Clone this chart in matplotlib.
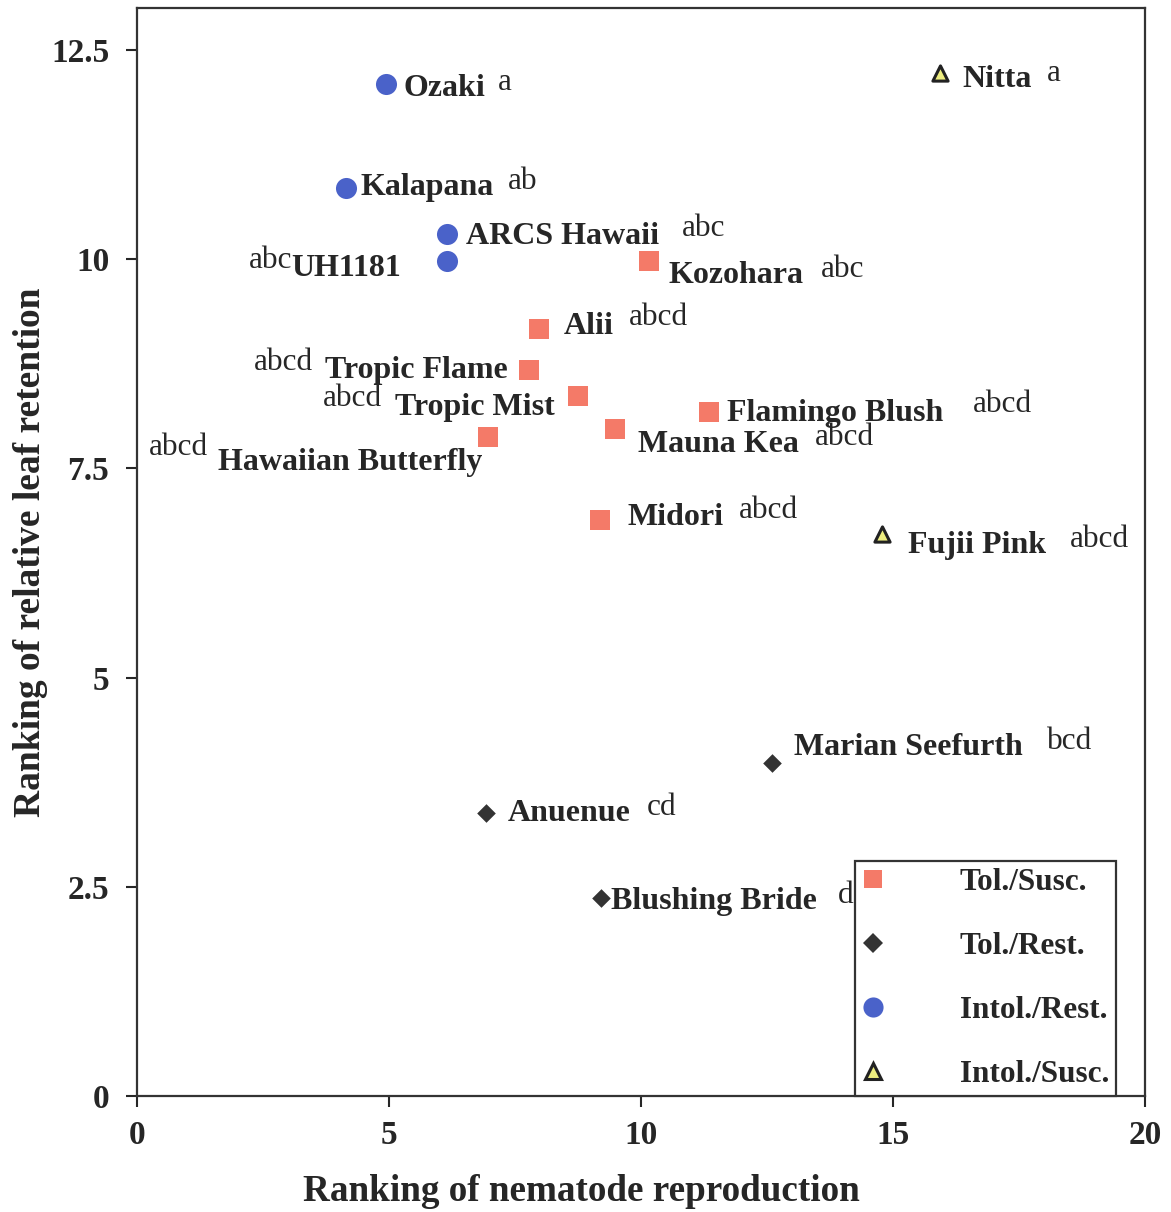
import matplotlib
matplotlib.use("Agg")
import matplotlib.pyplot as plt
from matplotlib.lines import Line2D

plt.rcParams['font.family'] = ['Liberation Serif', 'DejaVu Serif']

# Data
groups = ["Tol./Susc.", "Tol./Rest.", "Intol./Rest.", "Intol./Susc."]
cultivars = ["Ozaki", "Kalapana", "ARCS Hawaii", "UH1181", "Kozohara", "Alii",
             "Tropic Flame", "Tropic Mist", "Flamingo Blush", "Mauna Kea",
             "Hawaiian Butterfly", "Midori", "Nitta", "Fujii Pink",
             "Marian Seefurth", "Anuenue", "Blushing Bride"]
group_of = ["Intol./Rest.", "Intol./Rest.", "Intol./Rest.", "Intol./Rest.",
            "Tol./Susc.", "Tol./Susc.", "Tol./Susc.", "Tol./Susc.", "Tol./Susc.",
            "Tol./Susc.", "Tol./Susc.", "Tol./Susc.", "Intol./Susc.", "Intol./Susc.",
            "Tol./Rest.", "Tol./Rest.", "Tol./Rest."]
reproduction = [4.94, 4.15, 6.15, 6.15, 10.16, 7.98, 7.78, 8.75, 11.35, 9.48,
                6.96, 9.19, 15.93, 14.78, 12.6, 6.92, 9.21]
retention = [12.09, 10.85, 10.30, 9.98, 9.98, 9.16, 8.67, 8.36, 8.17, 7.97,
             7.87, 6.88, 12.22, 6.71, 3.98, 3.38, 2.37]
letters = ["a", "ab", "abc", "abc", "abc", "abcd", "abcd", "abcd", "abcd", "abcd",
           "abcd", "abcd", "a", "abcd", "bcd", "cd", "d"]
# label anchor positions (data coords)
name_xy = [(5.28, 12.04), (4.44, 10.85), (6.53, 10.27), (3.06, 9.89), (10.54, 9.80),
           (8.47, 9.19), (3.73, 8.67), (5.12, 8.23), (11.71, 8.16), (9.94, 7.79),
           (1.61, 7.57), (9.72, 6.91), (16.37, 12.15), (15.30, 6.58), (13.04, 4.16),
           (7.36, 3.37), (9.40, 2.32)]
letter_xy = [(7.16, 12.11), (7.36, 10.93), (10.81, 10.36), (2.22, 9.98), (13.57, 9.88),
             (9.76, 9.30), (2.32, 8.77), (3.69, 8.33), (16.59, 8.26), (13.45, 7.87),
             (0.24, 7.75), (11.94, 6.99), (18.04, 12.22), (18.51, 6.65), (18.06, 4.24),
             (10.12, 3.45), (13.91, 2.40)]

styles = {
    "Tol./Susc.": dict(marker="s", color="#f47a68", edgecolor="#f47a68", s=200, lw=0),
    "Tol./Rest.": dict(marker="D", color="#333333", edgecolor="#333333", s=90, lw=0),
    "Intol./Rest.": dict(marker="o", color="#4a62c9", edgecolor="#4a62c9", s=230, lw=0),
    "Intol./Susc.": dict(marker="^", color="#eeee80", edgecolor="#222222", s=120, lw=2.2),
}

fig = plt.figure(figsize=(11.71, 12.12), dpi=100)
ax = fig.add_axes([0.117, 0.0957, 0.861, 0.8977])

for g in groups:
    xs = [x for x, gg in zip(reproduction, group_of) if gg == g]
    ys = [y for y, gg in zip(retention, group_of) if gg == g]
    st = styles[g]
    ax.scatter(xs, ys, marker=st["marker"], facecolor=st["color"],
               edgecolor=st["edgecolor"], s=st["s"], linewidths=st["lw"], zorder=3)

txtcol = "#262626"
for name, (nx, ny), let, (lx, ly) in zip(cultivars, name_xy, letters, letter_xy):
    ax.text(nx, ny, name, fontsize=23, fontweight="bold", color=txtcol,
            ha="left", va="center")
    ax.text(lx, ly, let, fontsize=22.5, color=txtcol, ha="left", va="center")

ax.set_xlim(0, 20)
ax.set_ylim(0, 13)
ax.set_xticks([0, 5, 10, 15, 20])
ax.set_xticklabels(["0", "5", "10", "15", "20"])
ax.set_yticks([0, 2.5, 5, 7.5, 10, 12.5])
ax.set_yticklabels(["0", "2.5", "5", "7.5", "10", "12.5"])
ax.tick_params(direction="out", length=8, width=1.5, labelsize=24, colors=txtcol)
ax.tick_params(axis="y", pad=12)
ax.tick_params(axis="x", pad=9)
for lab in ax.get_xticklabels() + ax.get_yticklabels():
    lab.set_fontweight("bold")
for sp in ax.spines.values():
    sp.set_linewidth(1.6)
    sp.set_color("#333333")

ax.set_xlabel("Ranking of nematode reproduction", fontsize=26.7, fontweight="bold",
              color=txtcol)
ax.xaxis.label.set_verticalalignment("center")
ax.xaxis.set_label_coords(0.441, -0.088)
ax.set_ylabel("Ranking of relative leaf retention", fontsize=27, fontweight="bold",
              color=txtcol)
ax.yaxis.label.set_verticalalignment("center")
ax.yaxis.set_label_coords(-0.106, 0.5)

handles = []
for g in groups:
    st = styles[g]
    ms = {"s": 13.5, "D": 10.5, "o": 14.5, "^": 11}[st["marker"]]
    handles.append(Line2D([], [], linestyle="none", marker=st["marker"],
                          markerfacecolor=st["color"], markeredgecolor=st["edgecolor"],
                          markeredgewidth=st["lw"], markersize=ms))
leg = ax.legend(handles, groups, loc="lower right", bbox_to_anchor=(0.971, 0.0),
                borderaxespad=0, frameon=True, fancybox=False, framealpha=1,
                prop={"size": 22.5, "weight": "bold"}, labelspacing=1.12,
                handlelength=0.7, handletextpad=2.43, borderpad=0.22)
leg.get_frame().set_edgecolor("#333333")
leg.get_frame().set_linewidth(1.6)
for t in leg.get_texts():
    t.set_color(txtcol)

fig.savefig("out.png", dpi=100)
